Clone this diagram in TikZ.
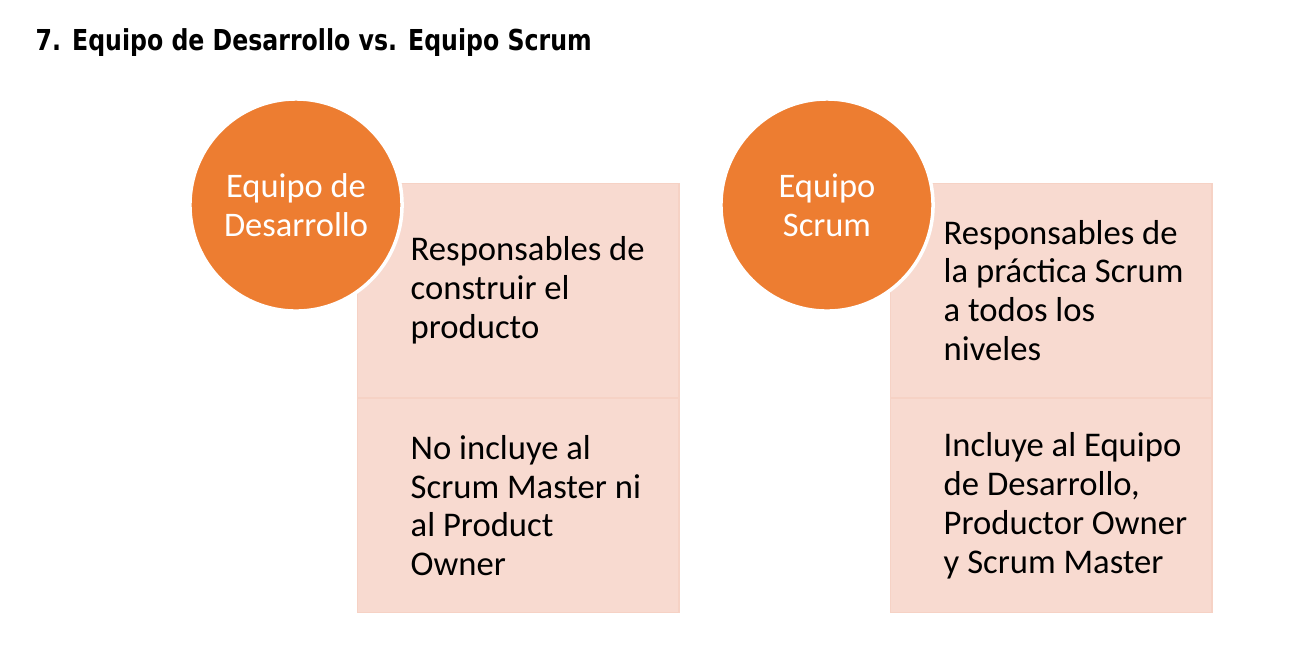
\documentclass[tikz,border=0pt]{standalone}
\usepackage{fontspec}
\setmainfont{Carlito}
\newfontfamily\titlefont[FakeStretch=0.82]{DejaVu Sans}
\usetikzlibrary{positioning}
\definecolor{naranja}{HTML}{ED7D31}
\definecolor{rosa}{HTML}{F8DAD0}
\definecolor{borde}{HTML}{F6D2C5}

\begin{document}
\begin{tikzpicture}[x=0.01cm, y=-0.01cm,
	celda/.style = {draw=borde, fill=rosa, minimum width=3.21cm, minimum height=2.135cm, inner sep=0pt},
	circulo/.style = {circle, fill=naranja, draw=white, line width=1pt, minimum size=2.12cm, inner sep=0pt, align=center, text=white, font=\fontsize{9.8}{11.06}\selectfont},
	texto/.style = {align=left, inner sep=0pt, font=\fontsize{9.85}{11.06}\selectfont}]
	\useasboundingbox (0,0) rectangle (1290,647);
	% titulo
	\node[anchor = base west, inner sep=0pt, font=\titlefont\bfseries\fontsize{8.2}{10}\selectfont] (titulo) at (35,50) {7. Equipo de Desarrollo vs. Equipo Scrum};
	% equipo de desarrollo
	\node[celda, anchor = north west] (des1) at (357,183) {};
	\node[celda, below = 0pt of des1] (des2) {};
	\node[texto, right = 0.53cm of des1.west] (tdes1) {Responsables de\\construir el\\producto};
	\node[texto, right = 0.53cm of des2.west] (tdes2) {No incluye al\\Scrum Master ni\\al Product\\Owner};
	\node[circulo] (eqdes) at (296,205) {Equipo de\\Desarrollo};
	% equipo scrum
	\node[celda, anchor = north west] (scr1) at (890,183) {};
	\node[celda, below = 0pt of scr1] (scr2) {};
	\node[texto, right = 0.53cm of scr1.west] (tscr1) {Responsables de\\la práctica Scrum\\a todos los\\niveles};
	\node[texto, right = 0.53cm of scr2.west] (tscr2) {Incluye al Equipo\\de Desarrollo,\\Productor Owner\\y Scrum Master};
	\node[circulo] (eqscr) at (827,205) {Equipo\\Scrum};
\end{tikzpicture}
\end{document}
